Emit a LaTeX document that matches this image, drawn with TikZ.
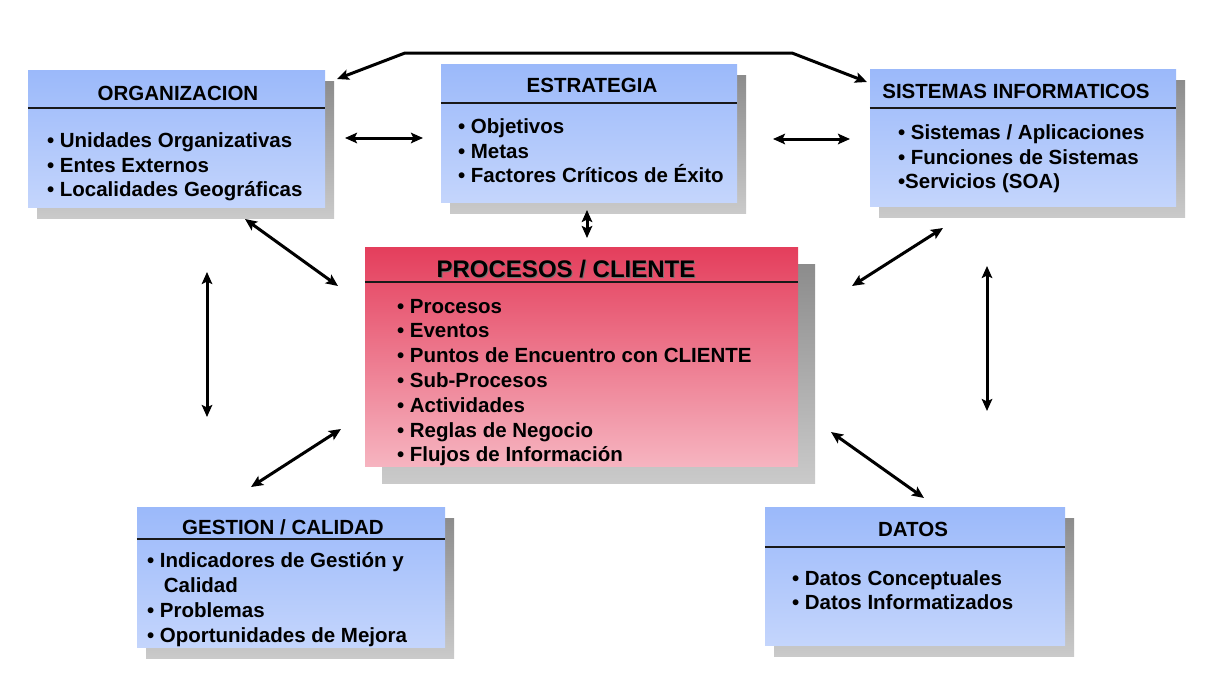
\documentclass[tikz,border=0pt]{standalone}
\usepackage{fontspec}
\setmainfont{Liberation Sans}
\usepackage{tikz}
\usetikzlibrary{shadows}
\usetikzlibrary{arrows.meta}
\definecolor{bluetop}{RGB}{155, 185, 250}
\definecolor{bluebottom}{RGB}{196, 213, 252}
\definecolor{redtop}{RGB}{228, 62, 92}
\definecolor{redbottom}{RGB}{246, 180, 192}
\definecolor{shadowtop}{RGB}{140, 140, 140}
\definecolor{shadowbottom}{RGB}{202, 202, 202}

\begin{document}
\begin{tikzpicture}[
        x=1pt,
        y=-1pt,
        box/.style={
            rectangle,
            inner sep=0pt,
            top color=bluetop,
            bottom color=bluebottom,
            drop shadow={shadow xshift=9pt, shadow yshift=-11pt,
                top color=shadowtop, bottom color=shadowbottom, opacity=1}
        },
        redbox/.style={
            rectangle,
            inner sep=0pt,
            top color=redtop,
            bottom color=redbottom,
            drop shadow={shadow xshift=17pt, shadow yshift=-17pt,
                top color=shadowtop, bottom color=shadowbottom, opacity=1}
        },
        boxtitle/.style={inner sep=0pt, font=\bfseries\fontsize{20.5}{24.8}\selectfont},
        boxtext/.style={inner sep=0pt, align=left, font=\bfseries\fontsize{20.5}{24.8}\selectfont},
        headline/.style={line width=1.6pt, black!90},
        link/.style={<->, >={Stealth[length=12pt, width=10.5pt, inset=2.5pt]}, line width=3pt}
    ]
    \path[use as bounding box, fill=white] (0,0) rectangle (1219,680);

    % ORGANIZACION
    \node[box, minimum width=297pt, minimum height=137pt] (org) at (176.5,138.5) {};
    \node[boxtitle, anchor=base] (orgtitle) at ([xshift=1.5pt, yshift=-31pt]org.north) {ORGANIZACION};
    \draw[headline] ([yshift=-38pt]org.north west) -- ([yshift=-38pt]org.north east);
    \node[boxtext, anchor=base west] (orglist) at ([xshift=19pt, yshift=-127pt]org.north west)
        {• Unidades Organizativas\\• Entes Externos\\• Localidades Geográficas};

    % ESTRATEGIA
    \node[box, minimum width=296pt, minimum height=138pt] (estr) at (589,133) {};
    \node[boxtitle, anchor=base] (estrtitle) at ([xshift=3pt, yshift=-29pt]estr.north) {ESTRATEGIA};
    \draw[headline] ([yshift=-39pt]estr.north west) -- ([yshift=-39pt]estr.north east);
    \node[boxtext, anchor=base west] (estrlist) at ([xshift=17pt, yshift=-119pt]estr.north west)
        {• Objetivos\\• Metas\\• Factores Críticos de Éxito};

    % SISTEMAS INFORMATICOS
    \node[box, minimum width=306pt, minimum height=137pt] (sis) at (1023,137.5) {};
    \node[boxtitle, anchor=base] (sistitle) at ([xshift=-7pt, yshift=-30pt]sis.north) {SISTEMAS INFORMATICOS};
    \draw[headline] ([yshift=-39pt]sis.north west) -- ([yshift=-39pt]sis.north east);
    \node[boxtext, anchor=base west] (sislist) at ([xshift=28pt, yshift=-120pt]sis.north west)
        {• Sistemas / Aplicaciones\\• Funciones de Sistemas\\•Servicios (SOA)};

    % PROCESOS / CLIENTE
    \node[redbox, minimum width=433pt, minimum height=219pt] (proc) at (581.5,356.5) {};
    \node[boxtitle, anchor=base, text=black!55, font=\bfseries\fontsize{24}{28}\selectfont] (procshadow)
        at ([xshift=-14.5pt, yshift=-32pt]proc.north) {PROCESOS / CLIENTE};
    \node[boxtitle, anchor=base, font=\bfseries\fontsize{24}{28}\selectfont] (proctitle)
        at ([xshift=-15.5pt, yshift=-31pt]proc.north) {PROCESOS / CLIENTE};
    \draw[headline] ([yshift=-35pt]proc.north west) -- ([yshift=-35pt]proc.north east);
    \node[boxtext, anchor=base west] (proclist) at ([xshift=32pt, yshift=-215pt]proc.north west)
        {• Procesos\\• Eventos\\• Puntos de Encuentro con CLIENTE\\• Sub-Procesos\\• Actividades\\• Reglas de Negocio\\• Flujos de Información};

    % GESTION / CALIDAD
    \node[box, minimum width=308pt, minimum height=140pt] (gest) at (291,577) {};
    \node[boxtitle, anchor=base] (gesttitle) at ([xshift=-8pt, yshift=-28pt]gest.north) {GESTION / CALIDAD};
    \draw[headline] ([yshift=-32pt]gest.north west) -- ([yshift=-32pt]gest.north east);
    \node[boxtext, anchor=base west] (gestlist) at ([xshift=10pt, yshift=-135.5pt]gest.north west)
        {• Indicadores de Gestión y\\\phantom{• }\hspace*{4pt}Calidad\\• Problemas\\• Oportunidades de Mejora};

    % DATOS
    \node[box, minimum width=300pt, minimum height=138pt] (datos) at (915,576) {};
    \node[boxtitle, anchor=base] (datostitle) at ([xshift=-2pt, yshift=-30pt]datos.north) {DATOS};
    \draw[headline] ([yshift=-40pt]datos.north west) -- ([yshift=-40pt]datos.north east);
    \node[boxtext, anchor=base west] (datoslist) at ([xshift=27pt, yshift=-103pt]datos.north west)
        {• Datos Conceptuales\\• Datos Informatizados};

    % arrow ends
    \coordinate (top1) at (337,79);
    \coordinate (top2) at (405,53);
    \coordinate (top3) at (792,53);
    \coordinate (top4) at (867,82);
    \coordinate (oe1) at (345,138);
    \coordinate (oe2) at (423,138);
    \coordinate (es1) at (773,139);
    \coordinate (es2) at (850,139);
    \coordinate (ep1) at (587,210);
    \coordinate (ep2) at (587,238);
    \coordinate (op1) at (245,219);
    \coordinate (op2) at (338,286);
    \coordinate (sp1) at (943,228);
    \coordinate (sp2) at (852,286);
    \coordinate (lv1) at (207,272);
    \coordinate (lv2) at (207,417);
    \coordinate (rv1) at (987,266);
    \coordinate (rv2) at (987,411);
    \coordinate (gp1) at (251,487);
    \coordinate (gp2) at (341,429);
    \coordinate (dp1) at (831,432);
    \coordinate (dp2) at (924,498);

    \draw[link] (top1) -- (top2) -- (top3) -- (top4);
    \draw[link] (oe1) -- (oe2);
    \draw[link] (es1) -- (es2);
    \draw[link] (ep1) -- (ep2);
    \draw[link] (op1) -- (op2);
    \draw[link] (sp1) -- (sp2);
    \draw[link] (lv1) -- (lv2);
    \draw[link] (rv1) -- (rv2);
    \draw[link] (gp1) -- (gp2);
    \draw[link] (dp1) -- (dp2);
\end{tikzpicture}
\end{document}
